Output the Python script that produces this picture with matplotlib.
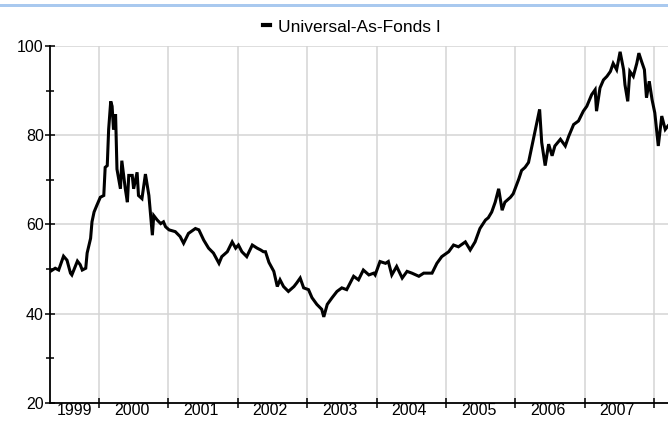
import matplotlib
matplotlib.use("Agg")
import matplotlib.pyplot as plt
from matplotlib.lines import Line2D
from matplotlib.patches import Rectangle
import numpy as np

plt.rcParams['font.family'] = ['Liberation Sans', 'DejaVu Sans']

series_name = "Universal-As-Fonds I"

years = [
    1999.30, 1999.37, 1999.42, 1999.49, 1999.54, 1999.59, 1999.61, 1999.69, 1999.73, 1999.76,
    1999.81, 1999.83, 1999.88, 1999.90, 1999.93, 1999.97, 2000.02, 2000.07, 2000.09, 2000.12,
    2000.14, 2000.17, 2000.19, 2000.21, 2000.24, 2000.26, 2000.31, 2000.33, 2000.38, 2000.41,
    2000.43, 2000.48, 2000.50, 2000.55, 2000.57, 2000.62, 2000.67, 2000.72, 2000.77, 2000.79,
    2000.84, 2000.89, 2000.93, 2000.96, 2001.01, 2001.10, 2001.17, 2001.22, 2001.29, 2001.39,
    2001.44, 2001.51, 2001.58, 2001.65, 2001.73, 2001.77, 2001.85, 2001.92, 2001.97, 2002.01,
    2002.06, 2002.13, 2002.21, 2002.28, 2002.33, 2002.37, 2002.40, 2002.45, 2002.52, 2002.57,
    2002.61, 2002.66, 2002.73, 2002.81, 2002.85, 2002.90, 2002.95, 2003.02, 2003.07, 2003.14,
    2003.21, 2003.24, 2003.29, 2003.36, 2003.43, 2003.50, 2003.57, 2003.67, 2003.74, 2003.81,
    2003.89, 2003.96, 2003.98, 2004.05, 2004.13, 2004.17, 2004.22, 2004.29, 2004.37, 2004.44,
    2004.51, 2004.61, 2004.68, 2004.80, 2004.87, 2004.94, 2005.04, 2005.11, 2005.18, 2005.28,
    2005.35, 2005.42, 2005.49, 2005.57, 2005.61, 2005.66, 2005.71, 2005.76, 2005.81, 2005.85,
    2005.93, 2005.97, 2006.05, 2006.09, 2006.14, 2006.19, 2006.24, 2006.29, 2006.35, 2006.38,
    2006.43, 2006.48, 2006.53, 2006.57, 2006.65, 2006.72, 2006.77, 2006.84, 2006.91, 2006.98,
    2007.03, 2007.10, 2007.15, 2007.17, 2007.22, 2007.27, 2007.32, 2007.37, 2007.41, 2007.46,
    2007.51, 2007.56, 2007.58, 2007.62, 2007.65, 2007.70, 2007.75, 2007.78, 2007.82, 2007.86,
    2007.89, 2007.93, 2007.97, 2008.01, 2008.05, 2008.06, 2008.11, 2008.16, 2008.20,
]

values = [
    49.5, 50.2, 49.8, 52.9, 52.0, 49.1, 48.7, 51.8, 51.0, 49.8,
    50.2, 53.6, 56.9, 60.6, 62.8, 64.3, 66.1, 66.5, 72.8, 73.2,
    81.3, 87.6, 86.5, 81.3, 84.7, 72.4, 68.0, 74.3, 68.0, 65.0,
    71.0, 71.0, 68.0, 71.7, 66.5, 65.8, 71.3, 66.5, 57.6, 62.0,
    61.0, 60.2, 60.6, 59.5, 58.8, 58.4, 57.3, 55.8, 58.0, 59.1,
    58.8, 56.5, 54.7, 53.6, 51.3, 52.8, 53.9, 56.1, 54.7, 55.4,
    53.9, 52.8, 55.4, 54.7, 54.3, 53.9, 53.9, 51.5, 49.5, 46.1,
    47.6, 46.1, 45.0, 46.1, 46.9, 48.0, 45.8, 45.4, 43.6, 42.1,
    41.0, 39.3, 42.1, 43.6, 45.0, 45.8, 45.4, 48.4, 47.6, 49.8,
    48.7, 49.1, 48.7, 51.7, 51.3, 51.7, 48.7, 50.6, 48.0, 49.5,
    49.1, 48.4, 49.1, 49.1, 51.3, 52.8, 53.9, 55.4, 55.0, 56.1,
    54.3, 56.1, 59.1, 61.0, 61.5, 62.8, 65.0, 68.0, 63.2, 65.0,
    66.1, 66.9, 70.2, 72.1, 72.8, 73.9, 77.6, 81.3, 85.8, 78.4,
    73.2, 78.0, 75.4, 77.6, 79.1, 77.6, 79.8, 82.4, 83.2, 85.4,
    86.5, 89.1, 90.2, 85.4, 90.6, 92.4, 93.2, 94.3, 96.1, 94.7,
    98.7, 94.7, 91.3, 87.6, 94.3, 93.2, 96.1, 98.4, 96.5, 94.7,
    88.4, 92.1, 88.0, 85.0, 79.1, 77.6, 84.3, 81.3, 82.1,
]

year_ticks = list(range(2000, 2009))
year_labels = [str(y) for y in range(1999, 2008)]
y_major = [20, 40, 60, 80, 100]
y_minor = [30, 50, 70, 90]

W, H = 668, 421
fig = plt.figure(figsize=(W / 100, H / 100), dpi=100)
fig.patch.set_facecolor('white')

left_px, right_px, top_px, bottom_px = 50, 668, 46, 403
ax = fig.add_axes([left_px / W, 1 - bottom_px / H, (right_px - left_px) / W, (bottom_px - top_px) / H])

xmin, xmax = 1999.295, 2008.20
ax.set_xlim(xmin, xmax)
ax.set_ylim(20, 100)

ax.plot(years, values, color='black', lw=2.2, solid_joinstyle='miter', zorder=3, clip_on=True)

# grid
for x in year_ticks:
    ax.axvline(x, color='#d4d4d4', lw=1.1, zorder=1)
for y in [40, 60, 80, 100]:
    ax.axhline(y, color='#d4d4d4', lw=1.1, zorder=1)

for s in ['top', 'right']:
    ax.spines[s].set_visible(False)
for s in ['left', 'bottom']:
    ax.spines[s].set_color('black')
    ax.spines[s].set_linewidth(1.3)

ax.set_yticks(y_major)
ax.set_yticklabels([str(v) for v in y_major])
ax.set_yticks(y_minor, minor=True)
ax.tick_params(axis='y', which='major', direction='inout', length=7, width=1.1, labelsize=11.5, pad=1)
ax.tick_params(axis='y', which='minor', direction='inout', length=6, width=1.1)

ax.set_xticks(year_ticks)
ax.set_xticklabels([])
label_pos = [(xmin + 2000) / 2] + [y + 0.47 for y in range(2000, 2008)]
ax.set_xticks(label_pos, minor=True)
ax.set_xticklabels(year_labels, minor=True)
ax.tick_params(axis='x', which='major', direction='inout', length=7, width=1.1)
ax.tick_params(axis='x', which='minor', length=0, labelsize=11.5, pad=0)

# legend
handle = Line2D([], [], color='black', lw=3.0)
fig.legend([handle], [series_name], loc='center', bbox_to_anchor=(352 / W, 1 - 27 / H),
           frameon=False, handlelength=0.4, handletextpad=0.45, fontsize=12.5)

# top blue border
fig.add_artist(Rectangle((0, 1 - 7 / H), 1, 3 / H, transform=fig.transFigure,
                         facecolor='#a9c9ef', edgecolor='none'))

fig.savefig('out.png', dpi=100)
